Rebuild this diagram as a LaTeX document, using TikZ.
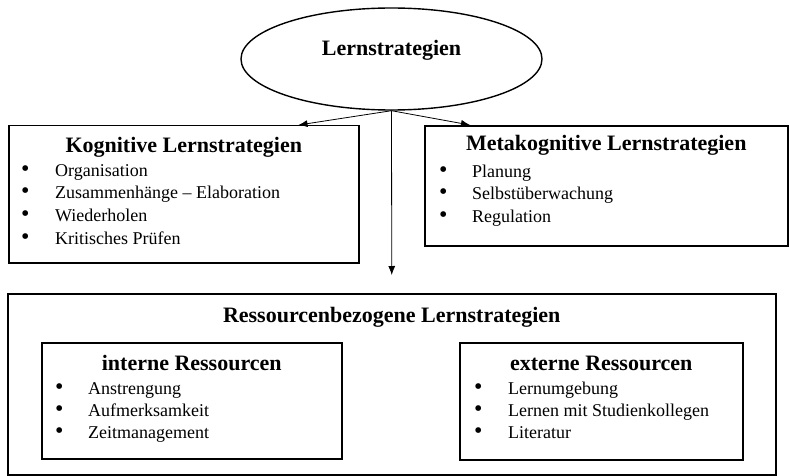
\documentclass[tikz,border=0pt]{standalone}
\usepackage{fontspec}
\setmainfont{Liberation Serif}
\usetikzlibrary{shapes.geometric, arrows.meta}

\newcommand{\dotmark}{{\fontsize{24}{22}\selectfont\textbullet}}

\begin{document}
\begin{tikzpicture}[> = {Latex[length = 9pt, width = 7pt]}, x = 1pt, y = -1pt, every node/.style = {text = black}]

	% Styles

	\tikzset{
		box/.style   = {draw, line width = 1.5pt, inner sep = 0pt, anchor = north west},
		head/.style  = {font = \fontsize{22}{26}\selectfont\bfseries, inner sep = 0pt},
		entry/.style = {font = \fontsize{18}{22}\selectfont, inner sep = 0pt, anchor = base west}
	}

	\useasboundingbox (0, 0) rectangle (789, 476);

	% Top ellipse

	\node [draw, ellipse, line width = 1.4pt, minimum width = 301pt, minimum height = 102pt,
		head, text depth = 22pt] (lern) at (391.5, 59) {Lernstrategien};

	% Boxes

	\node [box, minimum width = 350pt, minimum height = 137pt] (kog)    at (8, 125)   {};
	\node [box, minimum width = 363pt, minimum height = 120pt] (meta)   at (424, 125) {};
	\node [box, minimum width = 768pt, minimum height = 181pt] (res)    at (7, 293)   {};
	\node [box, minimum width = 300pt, minimum height = 116pt] (intern) at (41, 342)  {};
	\node [box, minimum width = 283pt, minimum height = 117pt] (extern) at (459, 342) {};

	% Headings

	\node [head, anchor = base] (kog-h)    at ([yshift = -27pt] kog.north)    {Kognitive Lernstrategien};
	\node [head, anchor = base] (meta-h)   at ([yshift = -25pt] meta.north)   {Metakognitive Lernstrategien};
	\node [head, anchor = base] (res-h)    at ([yshift = -29pt] res.north)    {Ressourcenbezogene Lernstrategien};
	\node [head, anchor = base] (intern-h) at ([yshift = -28pt] intern.north) {interne Ressourcen};
	\node [head, anchor = base] (extern-h) at ([yshift = -28pt] extern.north) {externe Ressourcen};

	% Bullet lists

	\foreach \t [count = \i] in {Organisation, Zusammenhänge – Elaboration, Wiederholen, Kritisches Prüfen}
		\node [entry] (kog-\i) at ([xshift = 13pt, yshift = {-51pt - (\i - 1) * 22.7pt}] kog.north west)
			{\makebox[34pt][l]{\dotmark}\t};

	\foreach \t [count = \i] in {Planung, Selbstüberwachung, Regulation}
		\node [entry] (meta-\i) at ([xshift = 15pt, yshift = {-52pt - (\i - 1) * 22.5pt}] meta.north west)
			{\makebox[33pt][l]{\dotmark}\t};

	\foreach \t [count = \i] in {Anstrengung, Aufmerksamkeit, Zeitmanagement}
		\node [entry] (intern-\i) at ([xshift = 14pt, yshift = {-52pt - (\i - 1) * 22pt}] intern.north west)
			{\makebox[33pt][l]{\dotmark}\t};

	\foreach \t [count = \i] in {Lernumgebung, Lernen mit Studienkollegen, Literatur}
		\node [entry] (extern-\i) at ([xshift = 15pt, yshift = {-52pt - (\i - 1) * 22pt}] extern.north west)
			{\makebox[34pt][l]{\dotmark}\t};

	% Arrows

	\begin{scope}[->, line width = 0.8pt]

		\draw (lern.south) -- ([xshift = -61pt] kog.north east);
		\draw (lern.south) -- ([xshift = 46pt] meta.north west);
		\draw (lern.south) -- ([yshift = 18pt] res.north);

	\end{scope}

\end{tikzpicture}
\end{document}
